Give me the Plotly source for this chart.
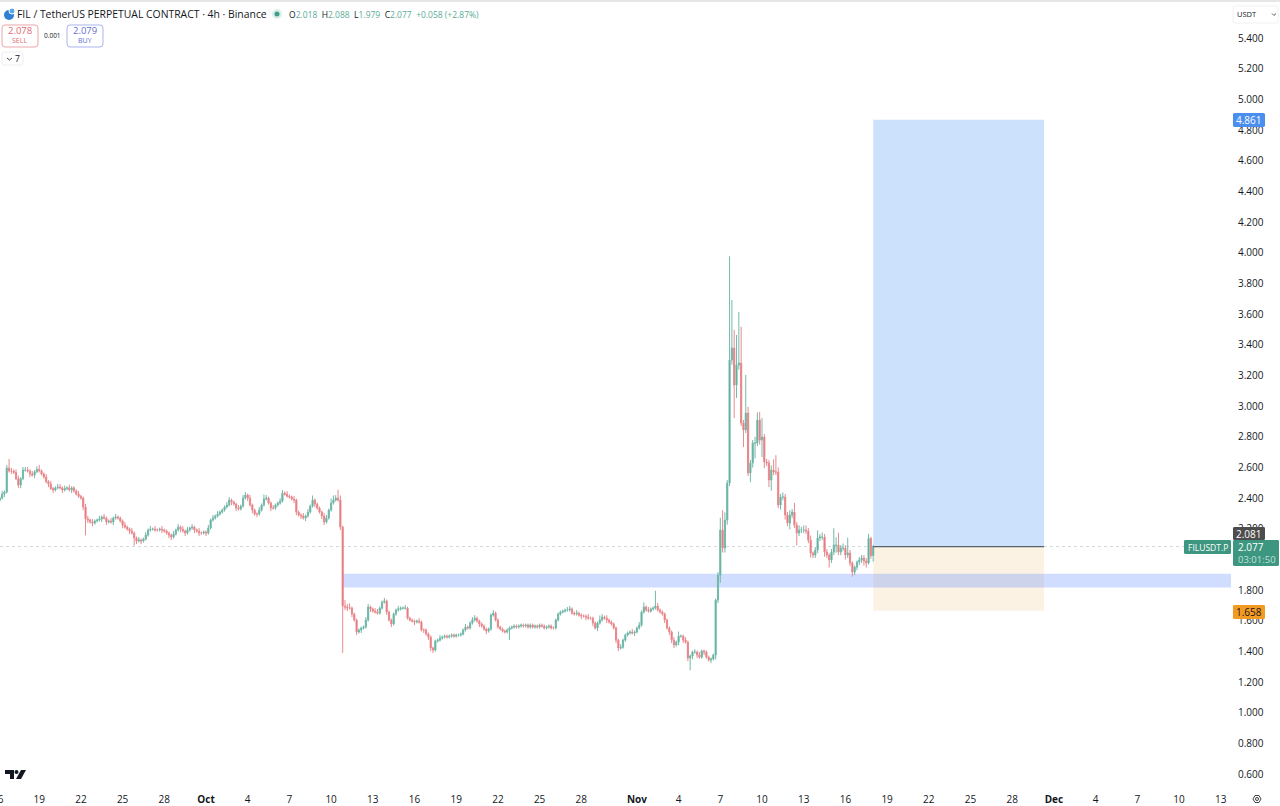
import plotly.graph_objects as go
from datetime import datetime, timedelta

# ---------- data (FILUSDT.P, 4h candles, one row per day) ----------
first_open = 2.38
first_candle = "2025-09-16 04:00"
closes = [
 2.393,2.42,2.433,2.589,2.57,2.57,
 2.56,2.52,2.478,2.52,2.576,2.576,
 2.57,2.55,2.543,2.565,2.58,2.57,
 2.55,2.53,2.50,2.485,2.455,2.446,
 2.46,2.465,2.46,2.446,2.455,2.46,
 2.446,2.46,2.44,2.42,2.405,2.393,
 2.335,2.257,2.25,2.237,2.23,2.244,
 2.25,2.257,2.27,2.263,2.237,2.244,
 2.237,2.263,2.27,2.263,2.244,2.217,
 2.204,2.191,2.178,2.165,2.133,2.113,
 2.12,2.113,2.126,2.152,2.185,2.191,
 2.191,2.185,2.185,2.191,2.185,2.178,
 2.165,2.152,2.139,2.159,2.185,2.204,
 2.191,2.178,2.165,2.185,2.198,2.204,
 2.185,2.178,2.165,2.165,2.172,2.165,
 2.198,2.25,2.263,2.276,2.289,2.302,
 2.315,2.335,2.348,2.38,2.367,2.354,
 2.328,2.322,2.341,2.393,2.413,2.393,
 2.348,2.315,2.289,2.289,2.315,2.348,
 2.387,2.393,2.361,2.328,2.328,2.348,
 2.361,2.374,2.426,2.419,2.406,2.40,
 2.387,2.38,2.302,2.283,2.276,2.263,
 2.276,2.302,2.341,2.38,2.354,2.328,
 2.302,2.276,2.237,2.263,2.315,2.361,
 2.38,2.393,2.38,2.204,1.689,1.683,
 1.676,1.676,1.637,1.598,1.52,1.533,
 1.546,1.552,1.598,1.683,1.67,1.656,
 1.65,1.643,1.676,1.715,1.722,1.65,
 1.598,1.572,1.637,1.663,1.67,1.676,
 1.676,1.676,1.61,1.598,1.591,1.585,
 1.591,1.585,1.533,1.533,1.507,1.487,
 1.415,1.402,1.461,1.467,1.48,1.487,
 1.493,1.487,1.493,1.5,1.493,1.5,
 1.5,1.507,1.533,1.552,1.546,1.578,
 1.598,1.61,1.591,1.572,1.559,1.539,
 1.526,1.539,1.63,1.643,1.598,1.552,
 1.539,1.526,1.52,1.533,1.546,1.552,
 1.559,1.552,1.559,1.565,1.559,1.565,
 1.552,1.565,1.552,1.559,1.552,1.565,
 1.559,1.546,1.552,1.559,1.546,1.546,
 1.598,1.637,1.65,1.656,1.663,1.663,
 1.67,1.643,1.637,1.643,1.63,1.624,
 1.624,1.617,1.61,1.61,1.578,1.546,
 1.578,1.598,1.617,1.61,1.598,1.585,
 1.572,1.546,1.467,1.415,1.421,1.467,
 1.5,1.513,1.52,1.513,1.52,1.546,
 1.565,1.65,1.683,1.663,1.656,1.67,
 1.676,1.689,1.663,1.65,1.637,1.598,
 1.546,1.52,1.467,1.435,1.454,1.493,
 1.493,1.467,1.454,1.35,1.363,1.389,
 1.389,1.37,1.356,1.396,1.389,1.356,
 1.337,1.344,1.37,1.728,1.891,2.185,
 2.068,2.25,2.491,3.293,3.372,3.13,
 3.261,3.274,2.883,2.837,2.948,2.557,
 2.622,2.752,2.752,2.902,2.772,2.791,
 2.628,2.622,2.511,2.576,2.563,2.563,
 2.348,2.40,2.40,2.283,2.23,2.283,
 2.302,2.217,2.165,2.185,2.185,2.185,
 2.178,2.119,2.035,2.022,2.054,2.133,
 2.139,2.139,2.041,2.022,1.99,2.041,
 2.087,2.087,2.041,2.067,2.067,2.022,
 2.035,1.97,1.911,1.943,1.976,1.99,
 2.002,1.983,1.97,2.13,2.018,2.077,
]
wick_up = [
 .01,.02,.01,.02,.06,.02,
 .01,.02,.02,.01,.02,.02,
 .02,.01,.02,.01,.02,.03,
 .01,.01,.02,.01,.02,.01,
 .01,.02,.02,.01,.02,.01,
 .02,.01,.01,.01,.02,.01,
 .01,.02,.02,.01,.02,.01,
 .01,.02,.01,.02,.01,.01,
 .02,.01,.02,.01,.01,.01,
 .02,.01,.01,.02,.01,.01,
 .02,.01,.01,.02,.01,.02,
 .01,.02,.01,.01,.02,.01,
 .01,.01,.01,.02,.01,.02,
 .01,.02,.01,.02,.01,.02,
 .01,.01,.02,.01,.01,.01,
 .02,.01,.02,.01,.02,.01,
 .01,.01,.02,.02,.01,.01,
 .01,.02,.01,.02,.02,.01,
 .02,.01,.01,.01,.02,.01,
 .03,.02,.01,.01,.02,.01,
 .01,.02,.02,.01,.02,.01,
 .01,.02,.01,.01,.01,.02,
 .01,.02,.01,.03,.01,.01,
 .01,.01,.02,.02,.01,.03,
 .03,.02,.055,.03,.01,.04,
 .02,.03,.01,.01,.01,.01,
 .01,.01,.02,.02,.01,.01,
 .02,.02,.01,.01,.02,.01,
 .01,.01,.01,.01,.02,.01,
 .01,.02,.01,.01,.01,.01,
 .01,.02,.01,.01,.01,.01,
 .01,.01,.01,.01,.02,.01,
 .01,.01,.01,.01,.01,.01,
 .01,.01,.01,.02,.01,.01,
 .02,.02,.01,.01,.01,.01,
 .01,.01,.01,.02,.01,.01,
 .01,.01,.01,.01,.01,.01,
 .01,.01,.01,.01,.01,.01,
 .01,.01,.01,.01,.01,.01,
 .01,.01,.01,.01,.01,.01,
 .01,.01,.01,.01,.01,.02,
 .02,.01,.01,.02,.01,.01,
 .01,.01,.02,.01,.01,.01,
 .01,.03,.02,.01,.02,.01,
 .01,.01,.01,.01,.02,.01,
 .01,.01,.01,.02,.01,.01,
 .02,.01,.03,.01,.02,.01,
 .01,.10,.02,.01,.01,.01,
 .01,.01,.01,.02,.01,.03,
 .01,.01,.02,.01,.01,.01,
 .02,.01,.02,.01,.01,.01,
 .01,.01,.01,.01,.02,.08,
 .13,.05,.02,.677,.313,.118,
 .196,.333,.236,.02,.248,.04,
 .02,.02,.04,.05,.053,.124,
 .02,.02,.02,.03,.07,.11,
 .03,.02,.03,.02,.02,.03,
 .02,.06,.02,.03,.02,.03,
 .03,.02,.03,.01,.02,.05,
 .02,.03,.02,.02,.01,.02,
 .11,.05,.08,.02,.03,.02,
 .10,.02,.01,.01,.01,.02,
 .02,.02,.02,.03,.01,.011,
]
wick_dn = [
 .01,.01,.02,.01,.01,.02,
 .01,.01,.02,.02,.01,.01,
 .01,.02,.01,.02,.01,.01,
 .01,.01,.01,.02,.01,.02,
 .01,.01,.01,.02,.01,.01,
 .01,.02,.01,.01,.01,.01,
 .02,.107,.02,.01,.02,.01,
 .01,.01,.02,.01,.02,.01,
 .01,.02,.01,.01,.01,.02,
 .01,.01,.02,.01,.05,.02,
 .01,.02,.01,.01,.01,.01,
 .01,.01,.01,.01,.02,.01,
 .01,.02,.02,.01,.01,.01,
 .02,.01,.02,.01,.01,.01,
 .02,.01,.02,.01,.01,.02,
 .01,.01,.01,.01,.01,.01,
 .01,.01,.01,.01,.02,.01,
 .02,.01,.01,.01,.01,.02,
 .01,.02,.01,.02,.01,.01,
 .01,.01,.01,.02,.01,.01,
 .01,.01,.01,.01,.01,.01,
 .01,.02,.02,.01,.02,.01,
 .02,.01,.01,.01,.02,.01,
 .01,.02,.02,.01,.01,.01,
 .01,.01,.01,.02,.306,.02,
 .02,.01,.02,.01,.02,.01,
 .02,.01,.01,.01,.02,.01,
 .01,.01,.01,.01,.01,.02,
 .01,.02,.01,.01,.01,.01,
 .01,.01,.01,.01,.01,.02,
 .01,.01,.01,.02,.01,.02,
 .02,.02,.01,.01,.01,.01,
 .01,.01,.01,.01,.01,.01,
 .01,.01,.01,.01,.01,.01,
 .01,.01,.01,.02,.01,.01,
 .02,.01,.01,.01,.01,.01,
 .01,.01,.01,.01,.066,.01,
 .01,.01,.01,.01,.01,.01,
 .01,.01,.01,.01,.01,.01,
 .01,.01,.01,.01,.01,.01,
 .01,.01,.01,.01,.01,.01,
 .01,.01,.01,.01,.01,.02,
 .01,.02,.01,.01,.02,.01,
 .02,.01,.01,.01,.02,.01,
 .01,.01,.02,.02,.01,.01,
 .01,.01,.01,.01,.02,.01,
 .01,.01,.01,.01,.01,.01,
 .01,.01,.01,.01,.01,.02,
 .01,.02,.02,.02,.01,.02,
 .01,.02,.01,.02,.08,.02,
 .01,.02,.01,.01,.02,.01,
 .01,.02,.01,.03,.02,.05,
 .03,.03,.03,.02,.03,.215,
 .084,.03,.02,.111,.02,.02,
 .06,.03,.10,.02,.03,.112,
 .04,.02,.046,.07,.02,.02,
 .02,.03,.02,.03,.02,.04,
 .02,.02,.08,.02,.02,.02,
 .02,.02,.03,.02,.02,.02,
 .02,.02,.03,.02,.05,.02,
 .02,.05,.02,.02,.02,.03,
 .02,.02,.03,.02,.02,.02,
 .02,.03,.03,.01,.02,.039,
]

tick_dates = ["2025-09-19","2025-09-22","2025-09-25","2025-09-28","2025-10-01","2025-10-04","2025-10-07","2025-10-10","2025-10-13","2025-10-16","2025-10-19","2025-10-22","2025-10-25","2025-10-28","2025-11-01","2025-11-04","2025-11-07","2025-11-10","2025-11-13","2025-11-16","2025-11-19","2025-11-22","2025-11-25","2025-11-28","2025-12-01","2025-12-04","2025-12-07","2025-12-10","2025-12-13"]
tick_labels = ["19","22","25","28","<b>Oct</b>","4","7","10","13","16","19","22","25","28","<b>Nov</b>","4","7","10","13","16","19","22","25","28","<b>Dec</b>","4","7","10","13"]
price_ticks = [0.6,0.8,1.0,1.2,1.4,1.6,1.8,2.0,2.2,2.4,2.6,2.8,3.0,3.2,3.4,3.6,3.8,4.0,4.2,4.4,4.6,4.8,5.0,5.2,5.4]

target_price = 4.861
stop_price = 1.658
entry_price = 2.077
zone_top = 1.90
zone_bottom = 1.81
position_start = "2025-11-18 00:00"
position_end = "2025-11-30 07:00"
zone_start = "2025-10-10 20:00"
last_price = "2.077"
countdown = "03:01:50"
crosshair_price = "2.081"

# ---------- derived series ----------
start = datetime.fromisoformat(first_candle)
dates = [start + timedelta(hours=4 * i) for i in range(len(closes))]
opens = [first_open] + closes[:-1]
highs = [max(o, c) + w for o, c, w in zip(opens, closes, wick_up)]
lows = [min(o, c) - w for o, c, w in zip(opens, closes, wick_dn)]

# ---------- geometry ----------
W, H = 1280, 806
ML, MR, MT, MB = 0, 49, 3, 19
PW, PH = W - ML - MR, H - MT - MB
def px(x): return (x - ML) / PW
def py(y): return 1 - (y - MT) / PH
oct1 = datetime(2025, 10, 1)
def xdate(x): return oct1 + timedelta(days=(x - 206) / 13.9)
def yprice(y): return 5.4 - (y - 37) * 0.2 / 30.67

UP, DOWN = "#3d9f8b", "#e25a60"
UP_WICK, DOWN_WICK = "#74b9aa", "#e98a8e"
TXT = "#131722"
FONT = "Open Sans, Roboto, sans-serif"

fig = go.Figure(go.Candlestick(
    x=dates, open=opens, high=highs, low=lows, close=closes,
    increasing=dict(line=dict(color=UP_WICK, width=1), fillcolor=UP),
    decreasing=dict(line=dict(color=DOWN_WICK, width=1), fillcolor=DOWN),
    whiskerwidth=0, showlegend=False, hoverinfo="skip"))

shapes, notes = [], []
def rect(x0, y0, x1, y1, fill, line=None, lw=1, r=0):
    if r:
        d = (f"M{px(x0+r):.5f},{py(y0):.5f} L{px(x1-r):.5f},{py(y0):.5f} Q{px(x1):.5f},{py(y0):.5f} {px(x1):.5f},{py(y0+r):.5f} "
             f"L{px(x1):.5f},{py(y1-r):.5f} Q{px(x1):.5f},{py(y1):.5f} {px(x1-r):.5f},{py(y1):.5f} "
             f"L{px(x0+r):.5f},{py(y1):.5f} Q{px(x0):.5f},{py(y1):.5f} {px(x0):.5f},{py(y1-r):.5f} "
             f"L{px(x0):.5f},{py(y0+r):.5f} Q{px(x0):.5f},{py(y0):.5f} {px(x0+r):.5f},{py(y0):.5f} Z")
        shapes.append(dict(type="path", xref="paper", yref="paper", path=d, fillcolor=fill,
                           line=dict(color=line or "rgba(0,0,0,0)", width=lw if line else 0), layer="above"))
    else:
        shapes.append(dict(type="rect", xref="paper", yref="paper", x0=px(x0), x1=px(x1), y0=py(y0), y1=py(y1),
                           fillcolor=fill, line=dict(color=line or "rgba(0,0,0,0)", width=lw if line else 0), layer="above"))
def text(x, y, s, size=10, color=TXT, anchor="center"):
    notes.append(dict(xref="paper", yref="paper", x=px(x), y=py(y), text=s, showarrow=False, xanchor=anchor, yanchor="middle",
                      font=dict(size=size, color=color, family=FONT), borderpad=0, borderwidth=0))
def path(d, fill=None, line=None, lw=1):
    s = "M" + " L".join(f"{px(a):.5f},{py(b):.5f}" for a, b in d)
    if fill: s += " Z"
    shapes.append(dict(type="path", xref="paper", yref="paper", path=s, fillcolor=fill or "rgba(0,0,0,0)",
                       line=dict(color=line or "rgba(0,0,0,0)", width=lw if line else 0), layer="above"))
def circle(cx, cy, r, fill=None, line=None, lw=1):
    shapes.append(dict(type="circle", xref="paper", yref="paper", x0=px(cx - r), x1=px(cx + r), y0=py(cy + r), y1=py(cy - r),
                       fillcolor=fill or "rgba(0,0,0,0)", line=dict(color=line or "rgba(0,0,0,0)", width=lw if line else 0), layer="above"))

# position and zone drawn on the data scales
shapes += [
    dict(type="rect", xref="x", yref="y", x0=position_start, x1=position_end, y0=entry_price, y1=target_price,
         fillcolor="rgba(0,110,240,0.2)", line=dict(width=0), layer="below"),
    dict(type="rect", xref="x", yref="y", x0=position_start, x1=position_end, y0=stop_price, y1=entry_price,
         fillcolor="rgba(230,147,30,0.12)", line=dict(width=0), layer="below"),
    dict(type="rect", xref="x", yref="y", x0=zone_start, x1=xdate(1231), y0=zone_bottom, y1=zone_top,
         fillcolor="rgba(41,98,255,0.22)", line=dict(width=0), layer="below"),
    dict(type="line", xref="paper", yref="y", x0=0, x1=1, y0=entry_price, y1=entry_price,
         line=dict(color="rgba(120,150,145,0.35)", width=1, dash="dot"), layer="below"),
    dict(type="line", xref="x", yref="y", x0=position_start, x1=position_end, y0=entry_price, y1=entry_price,
         line=dict(color="#566468", width=1.3), layer="above"),
]

# top band
rect(0, 0, 1280, 2, "#e6e6e6")

# header
circle(9, 15, 5, fill="#2f7fd6")
circle(12, 11, 3, fill="#5aa9e6", line="#ffffff", lw=1)
text(17, 14, "FIL / TetherUS PERPETUAL CONTRACT · 4h · Binance", 10.4, TXT, "left")
circle(277, 14, 5, fill="#dcefe9")
circle(277, 14, 2.5, fill="#3d9f8b")
G = "#5bab98"
ohlc = (f'O<span style="color:{G}">2.018</span>  H<span style="color:{G}">2.088</span>  '
        f'L<span style="color:{G}">1.979</span>  C<span style="color:{G}">2.077</span>  '
        f'<span style="color:{G}">+0.058 (+2.87%)</span>')
text(289, 14, ohlc, 8.5, TXT, "left")

rect(2, 25, 38, 47, "#ffffff", "#eaa6a8", r=3)
text(20, 31, "2.078", 9.5, "#dd6a6e")
text(20, 40, "SELL", 7, "#dd6a6e")
text(52, 36, "0.001", 6.5, TXT)
rect(67, 25, 103, 47, "#ffffff", "#aab4ec", r=3)
text(85, 31, "2.079", 9.5, "#5f6fd0")
text(85, 40, "BUY", 7, "#5f6fd0")
rect(2, 52, 23, 65, "#ffffff", "#eeeeee", r=2)
path([(7, 58), (9.5, 60), (12, 58)], line="#444444")
text(17.5, 59, "7", 8.5, TXT)

# USDT selector
rect(1233, 6, 1278, 23, "#ffffff", "#f1f1f1", r=2)
text(1237, 14, "USDT", 7.5, TXT, "left")
path([(1272, 13.5), (1274, 15.5), (1276, 13.5)], line="#555555")

# price labels
rect(1233, 113, 1265, 127, "#4a8ef0", r=1.5)
text(1249, 120, "4.861", 10, "#ffffff")
rect(1233, 527, 1265, 540, "#4d4d4d", r=1.5)
text(1249, 534, crosshair_price, 10, "#ffffff")
rect(1233, 540, 1279, 566, "#3d9680", r=1.5)
text(1238, 547, last_price, 10, "#ffffff", "left")
text(1238, 559, countdown, 9.5, "#bfe0d8", "left")
rect(1184, 540, 1231, 554, "#3d9680", r=1.5)
text(1207.5, 547, "FILUSDT.P", 8.5, "#ffffff")
rect(1233, 605, 1265, 619, "#f39a22", r=1.5)
text(1249, 612, "1.658", 10, TXT)

# clipped first date label
text(-2.5, 799, "16", 10, TXT)

# logo
path([(5, 770), (14, 770), (14, 779), (10, 779), (10, 774), (5, 774)], fill="#131722")
circle(16.5, 772, 2, fill="#131722")
path([(21, 770), (26, 770), (21, 779), (16, 779)], fill="#131722")

# gear icon
path([(1253, 799), (1255, 795.5), (1259, 795.5), (1261, 799), (1259, 802.5), (1255, 802.5), (1253, 799)], line="#444444")
circle(1257, 799, 1.5, line="#444444")

fig.update_layout(
    width=W, height=H, autosize=False,
    margin=dict(l=ML, r=MR, t=MT, b=MB, pad=0),
    paper_bgcolor="#ffffff", plot_bgcolor="#ffffff",
    font=dict(family=FONT, color=TXT, size=10),
    showlegend=False, hovermode=False,
    shapes=shapes, annotations=notes,
    xaxis=dict(type="date", range=[xdate(0), xdate(1231)], rangeslider=dict(visible=False),
               tickmode="array", tickvals=tick_dates, ticktext=tick_labels, showgrid=False, zeroline=False,
               showline=False, ticks="", ticklabelstandoff=5, tickangle=0, tickfont=dict(size=10, color=TXT, family=FONT)),
    yaxis=dict(side="right", range=[yprice(787), yprice(3)], tickmode="array", tickvals=price_ticks,
               tickformat=".3f", showgrid=False, zeroline=False, showline=False, ticks="",
               ticklabelstandoff=6, ticklabelshift=1, tickfont=dict(size=10, color=TXT, family=FONT)),
)
assert len(closes) == len(wick_up) == len(wick_dn)
fig.write_html("out.html", config=dict(displayModeBar=False),
               post_script="document.body.style.margin='0';document.documentElement.style.overflow='hidden';")
